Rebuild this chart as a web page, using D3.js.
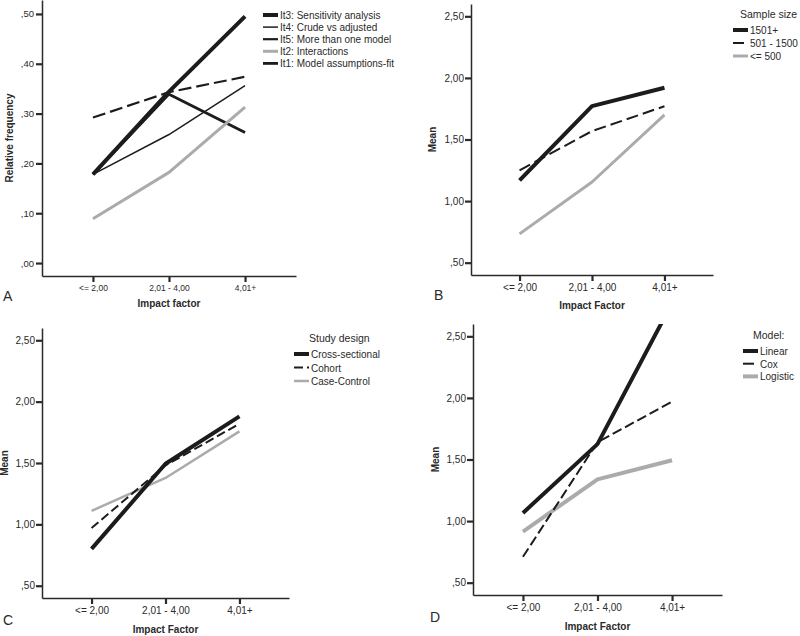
<!DOCTYPE html>
<html>
<head>
<meta charset="utf-8">
<script src="https://cdnjs.cloudflare.com/ajax/libs/d3/7.8.5/d3.min.js"></script>
<style>
body { margin: 0; background: #fff; }
svg { font-family: "Liberation Sans", Arial, sans-serif; }
</style>
</head>
<body>
<svg id="chart" width="800" height="636"></svg>
<script>
// categories on every x axis
var impactCats = ["<= 2,00", "2,01 - 4,00", "4,01+"];

// panel A - relative frequency per item
var itemNames = ["It3: Sensitivity analysis", "It4: Crude vs adjusted", "It5: More than one model", "It2: Interactions", "It1: Model assumptions-fit"];
var it3 = [0.178, 0.344, 0.495];
var it4 = [0.178, 0.258, 0.356];
var it5 = [0.292, 0.343, 0.374];
var it2 = [0.089, 0.182, 0.313];
var it1 = [0.178, 0.339, 0.262];
var freqTicks = [0, 0.1, 0.2, 0.3, 0.4, 0.5];

// panel B - sample size
var sampleNames = ["1501+", "501 - 1500", "<= 500"];
var s1501 = [1.168, 1.771, 1.92];
var s501 = [1.25, 1.568, 1.77];
var s500 = [0.734, 1.155, 1.70];

// panel C - study design
var designNames = ["Cross-sectional", "Cohort", "Case-Control"];
var crossSec = [0.80, 1.494, 1.88];
var cohort = [0.97, 1.48, 1.82];
var caseCtrl = [1.11, 1.378, 1.758];

// panel D - model
var modelNames = ["Linear", "Cox", "Logistic"];
var linear = [1.066, 1.625, 2.77];
var cox = [0.71, 1.64, 1.97];
var logistic = [0.915, 1.339, 1.494];
var meanTicks = [0.5, 1, 1.5, 2, 2.5];

var BLACK = "#1c1c1c";
var GREY = "#ababab";
var INK = "#2a2a2a";

function fmt(v) {
    var s = d3.format(".2f")(v).replace(".", ",");
    if (s.charAt(0) == "0") s = s.substring(1);
    return s;
}

function panel(o) {
    var svg = d3.select("#chart");
    var g = svg.append("g");

    var x = d3.scalePoint().domain(impactCats).range([o.left, o.right]).padding(0.67);
    var y = d3.scaleLinear().domain(o.domain).range([o.bottom, o.top]);

    var clipId = "clip" + o.letter;
    svg.append("clipPath").attr("id", clipId).append("rect")
        .attr("x", o.left).attr("y", o.top)
        .attr("width", o.right - o.left).attr("height", o.bottom - o.top);

    // axes
    var ya = g.append("g").attr("transform", "translate(" + o.left + ",0)")
        .call(d3.axisLeft(y).tickValues(o.ticks).tickFormat(fmt).tickSize(6).tickSizeOuter(0));
    var xa = g.append("g").attr("transform", "translate(0," + o.bottom + ")")
        .call(d3.axisBottom(x).tickSize(6).tickSizeOuter(0));
    [ya, xa].forEach(function (a) {
        a.select(".domain").attr("stroke", INK).attr("stroke-width", 1.5);
        a.selectAll(".tick line").attr("stroke", INK).attr("stroke-width", 2.2);
        a.selectAll(".tick text").attr("fill", INK);
    });
    ya.selectAll(".tick text").attr("x", -o.yLabGap).style("font-size", o.yTickFont + "px");
    xa.selectAll(".tick text").attr("y", 9).style("font-size", o.xTickFont + "px");

    // titles
    g.append("text")
        .attr("transform", "translate(" + (o.left - o.yTitleOff) + "," + ((o.top + o.bottom) / 2) + ") rotate(-90)")
        .attr("text-anchor", "middle").attr("font-weight", "bold")
        .style("font-size", "10px").attr("fill", INK).text(o.yTitle);
    g.append("text")
        .attr("x", x(impactCats[1])).attr("y", o.xTitleY)
        .attr("text-anchor", "middle").attr("font-weight", "bold")
        .style("font-size", "10px").attr("fill", INK).text(o.xTitle);
    g.append("text")
        .attr("x", o.letterX).attr("y", o.letterY)
        .style("font-size", "14px").attr("fill", INK).text(o.letter);

    // lines
    var line = d3.line()
        .x(function (d, i) { return x(impactCats[i]); })
        .y(function (d) { return y(d); });
    var lines = g.append("g").attr("clip-path", "url(#" + clipId + ")");
    o.series.slice().reverse().forEach(function (s) {
        lines.append("path").datum(s.values)
            .attr("d", line).attr("fill", "none")
            .attr("stroke", s.color).attr("stroke-width", s.width)
            .attr("stroke-dasharray", s.dash || null)
            .attr("stroke-linejoin", "round");
    });

    // legend
    var lg = g.append("g").attr("transform", "translate(" + o.legX + "," + o.legY + ")");
    if (o.legTitle) {
        lg.append("text").attr("x", o.legTitleX).attr("y", -12)
            .style("font-size", "10.5px").attr("fill", INK).text(o.legTitle);
    }
    var rows = lg.selectAll(".row").data(o.series).enter().append("g")
        .attr("transform", function (d, i) { return "translate(0," + (i * o.legStep) + ")"; });
    rows.append("line")
        .attr("x1", 0).attr("x2", 15).attr("y1", 0).attr("y2", 0)
        .attr("stroke", function (d) { return d.color; })
        .attr("stroke-width", function (d) { return d.width; })
        .attr("stroke-dasharray", function (d) { return d.legDash || null; });
    rows.append("text").attr("x", 17).attr("y", 4)
        .style("font-size", "10px").attr("fill", INK)
        .text(function (d) { return d.name; });
}

panel({
    letter: "A", left: 42, right: 296, top: 0, bottom: 276,
    domain: [-0.026, 0.528], ticks: freqTicks, yTickFont: 9.5, xTickFont: 8.5, yLabGap: 8,
    yTitle: "Relative frequency", yTitleOff: 29, xTitle: "Impact factor", xTitleY: 307,
    letterX: 3, letterY: 301,
    legX: 263, legY: 15, legStep: 12.1,
    series: [
        { name: itemNames[0], values: it3, color: BLACK, width: 4 },
        { name: itemNames[1], values: it4, color: BLACK, width: 1.5 },
        { name: itemNames[2], values: it5, color: BLACK, width: 2.2, dash: "13,5" },
        { name: itemNames[3], values: it2, color: GREY, width: 3 },
        { name: itemNames[4], values: it1, color: BLACK, width: 2.8 }
    ]
});

panel({
    letter: "B", left: 471, right: 713, top: 4, bottom: 275,
    domain: [0.4, 2.6], ticks: meanTicks, yTickFont: 10, xTickFont: 10, yLabGap: 7,
    yTitle: "Mean", yTitleOff: 35, xTitle: "Impact Factor", xTitleY: 309,
    letterX: 434, letterY: 300,
    legX: 733, legY: 30, legStep: 13, legTitle: "Sample size", legTitleX: 7,
    series: [
        { name: sampleNames[0], values: s1501, color: BLACK, width: 4 },
        { name: sampleNames[1], values: s501, color: BLACK, width: 2, dash: "12,5", legDash: "11,4" },
        { name: sampleNames[2], values: s500, color: GREY, width: 3 }
    ]
});

panel({
    letter: "C", left: 42, right: 289, top: 328, bottom: 598,
    domain: [0.4, 2.6], ticks: meanTicks, yTickFont: 10, xTickFont: 10, yLabGap: 7,
    yTitle: "Mean", yTitleOff: 34, xTitle: "Impact Factor", xTitleY: 633,
    letterX: 3, letterY: 625,
    legX: 294, legY: 354, legStep: 13.5, legTitle: "Study design", legTitleX: 15,
    series: [
        { name: designNames[0], values: crossSec, color: BLACK, width: 4 },
        { name: designNames[1], values: cohort, color: BLACK, width: 2, dash: "9,4", legDash: "9,4" },
        { name: designNames[2], values: caseCtrl, color: GREY, width: 2.5 }
    ]
});

panel({
    letter: "D", left: 473, right: 722, top: 324, bottom: 595,
    domain: [0.4, 2.6], ticks: meanTicks, yTickFont: 10, xTickFont: 10, yLabGap: 7,
    yTitle: "Mean", yTitleOff: 34, xTitle: "Impact Factor", xTitleY: 630,
    letterX: 430, letterY: 622,
    legX: 743, legY: 351, legStep: 12.7, legTitle: "Model:", legTitleX: 10,
    series: [
        { name: modelNames[0], values: linear, color: BLACK, width: 4 },
        { name: modelNames[1], values: cox, color: BLACK, width: 2, dash: "10,4", legDash: "11,4" },
        { name: modelNames[2], values: logistic, color: GREY, width: 4 }
    ]
});
</script>
</body>
</html>
